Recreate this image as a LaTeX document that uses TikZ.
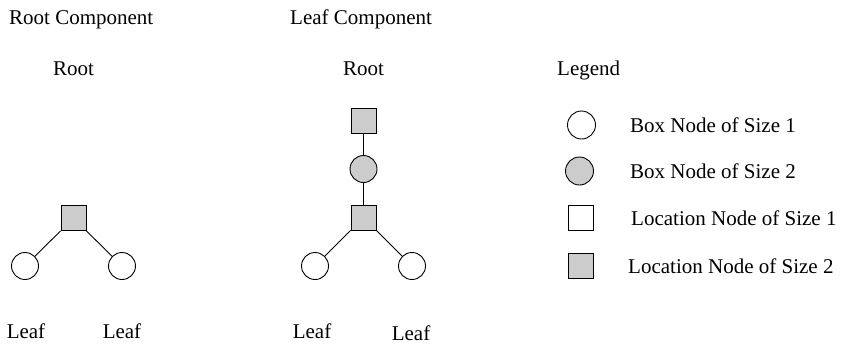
\documentclass[tikz,border=0pt]{standalone}
\usepackage{fontspec}
\setmainfont{Liberation Serif}
\begin{document}
\begin{tikzpicture}[x=1bp,y=-1bp,
  every node/.style={font=\fontsize{21bp}{25bp}\selectfont},
  lbl/.style={anchor=base west,inner sep=0pt},
  ctr/.style={anchor=base,inner sep=0pt},
  boxone/.style={circle,draw,line width=0.9bp,fill=white,minimum size=27bp,inner sep=0pt},
  boxtwo/.style={boxone,fill=gray!40},
  locone/.style={rectangle,draw,line width=0.9bp,fill=white,minimum size=25bp,inner sep=0pt},
  loctwo/.style={locone,fill=gray!40},
  edge/.style={line width=0.9bp}]
\useasboundingbox (0,0) rectangle (841,344);

% titles
\node[lbl] (t1) at (9,24) {Root Component};
\node[lbl] (t2) at (290,24) {Leaf Component};
\node[ctr] (r1) at (73.5,75) {Root};
\node[ctr] (r2) at (363.5,75) {Root};
\node[lbl] (lg) at (557,75) {Legend};

% root component
\node[loctwo] (a0) at (73.5,218) {};
\node[boxone] (a1) at (25,266) {};
\node[boxone] (a2) at (122,266) {};
\draw[edge] (a0.south west) -- (a1);
\draw[edge] (a0.south east) -- (a2);
\node[ctr] (la1) at (26,338) {Leaf};
\node[ctr] (la2) at (122,338) {Leaf};

% leaf component
\node[loctwo] (b0) at (363.5,121) {};
\node[boxtwo] (b1) at (363.5,169) {};
\node[loctwo] (b2) at (363.5,217.5) {};
\node[boxone] (b3) at (315,266) {};
\node[boxone] (b4) at (412,266) {};
\draw[edge] (b0) -- (b1);
\draw[edge] (b1) -- (b2);
\draw[edge] (b2.south west) -- (b3);
\draw[edge] (b2.south east) -- (b4);
\node[ctr] (lb1) at (312,338) {Leaf};
\node[ctr] (lb2) at (411,340) {Leaf};

% legend
\node[boxone,minimum size=28bp] (k1) at (581.5,125) {};
\node[boxtwo,minimum size=28bp] (k2) at (579.5,171) {};
\node[locone] (k3) at (581,218) {};
\node[loctwo] (k4) at (581,266) {};
\node[lbl] (d1) at (630,132) {Box Node of Size 1};
\node[lbl] (d2) at (630,178) {Box Node of Size 2};
\node[lbl] (d3) at (631,225) {Location Node of Size 1};
\node[lbl] (d4) at (628,273) {Location Node of Size 2};
\end{tikzpicture}
\end{document}
